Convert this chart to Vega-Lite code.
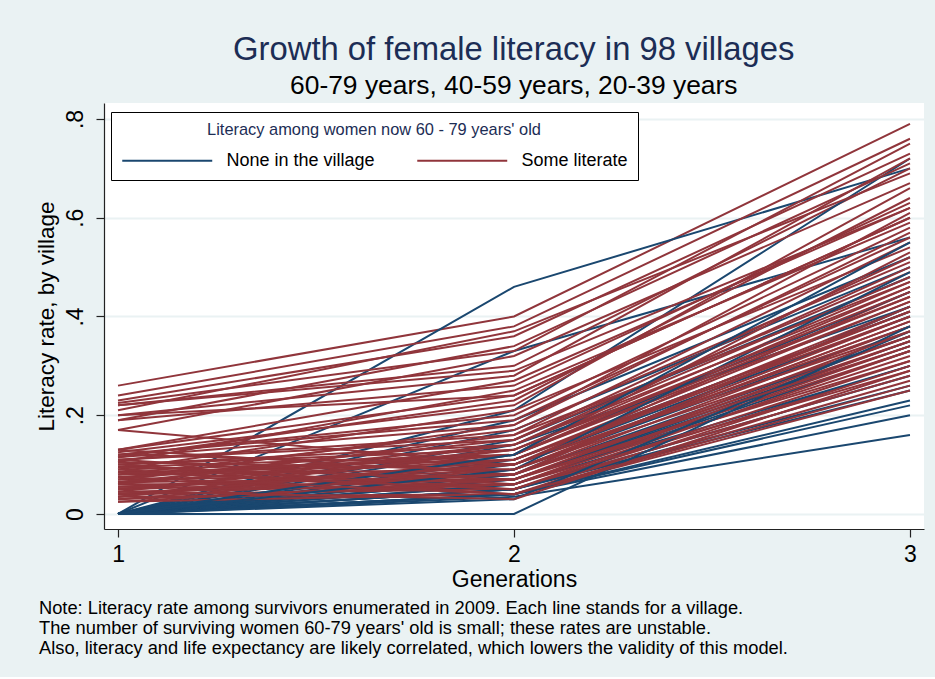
{
  "$schema": "https://vega.github.io/schema/vega-lite/v6.json",
  "background": "#EAF2F3",
  "autosize": {"type": "pad"},
  "padding": {"left": 35, "top": 33, "right": 12, "bottom": 19},
  "title": {
    "text": "Growth of female literacy in 98 villages",
    "subtitle": "60-79 years, 40-59 years, 20-39 years",
    "anchor": "middle", "frame": "bounds", "dx": 34, "offset": 4,
    "font": "Liberation Sans", "fontSize": 32.8, "fontWeight": "normal", "color": "#1c2d55",
    "subtitleFont": "Liberation Sans", "subtitleFontSize": 26.4, "subtitleColor": "black", "subtitlePadding": 6
  },
  "config": {
    "view": {"fill": "white", "stroke": null},
    "axis": {
      "domainColor": "#222", "domainWidth": 1.2, "tickColor": "#222", "tickWidth": 1.2, "tickSize": 8,
      "labelFont": "Liberation Sans", "labelFontSize": 23, "labelColor": "black",
      "titleFont": "Liberation Sans", "titleFontSize": 23, "titleFontWeight": "normal", "titleColor": "black",
      "labelFlush": false, "labelOverlap": false, "gridColor": "#EAF2F3", "gridWidth": 2
    }
  },
  "hconcat": [
    {
      "width": 820,
      "height": 426,
      "title": {
        "text": [
          "Note: Literacy rate among survivors enumerated in 2009. Each line stands for a village.",
          "The number of surviving women 60-79 years' old is small; these rates are unstable.",
          "Also, literacy and life expectancy are likely correlated, which lowers the validity of this model."
        ],
        "orient": "bottom", "anchor": "start", "frame": "group", "dx": -65, "offset": 9,
        "font": "Liberation Sans", "fontSize": 18.3, "fontWeight": "normal", "color": "black", "lineHeight": 20, "align": "left"
      },
      "data": {
        "values": [
          {"v":1,"s":"S","g":1,"r":0.26},{"v":1,"s":"S","g":2,"r":0.40},{"v":1,"s":"S","g":3,"r":0.79},
          {"v":2,"s":"N","g":1,"r":0},{"v":2,"s":"N","g":2,"r":0.46},{"v":2,"s":"N","g":3,"r":0.70},
          {"v":3,"s":"S","g":1,"r":0.24},{"v":3,"s":"S","g":2,"r":0.38},{"v":3,"s":"S","g":3,"r":0.76},
          {"v":4,"s":"S","g":1,"r":0.23},{"v":4,"s":"S","g":2,"r":0.36},{"v":4,"s":"S","g":3,"r":0.73},
          {"v":5,"s":"N","g":1,"r":0},{"v":5,"s":"N","g":2,"r":0.33},{"v":5,"s":"N","g":3,"r":0.56},
          {"v":6,"s":"S","g":1,"r":0.225},{"v":6,"s":"S","g":2,"r":0.33},{"v":6,"s":"S","g":3,"r":0.75},
          {"v":7,"s":"S","g":1,"r":0.22},{"v":7,"s":"S","g":2,"r":0.30},{"v":7,"s":"S","g":3,"r":0.70},
          {"v":8,"s":"N","g":1,"r":0},{"v":8,"s":"N","g":2,"r":0.21},{"v":8,"s":"N","g":3,"r":0.72},
          {"v":9,"s":"S","g":1,"r":0.21},{"v":9,"s":"S","g":2,"r":0.37},{"v":9,"s":"S","g":3,"r":0.69},
          {"v":10,"s":"S","g":1,"r":0.20},{"v":10,"s":"S","g":2,"r":0.28},{"v":10,"s":"S","g":3,"r":0.72},
          {"v":11,"s":"N","g":1,"r":0},{"v":11,"s":"N","g":2,"r":0.19},{"v":11,"s":"N","g":3,"r":0.52},
          {"v":12,"s":"S","g":1,"r":0.19},{"v":12,"s":"S","g":2,"r":0.26},{"v":12,"s":"S","g":3,"r":0.63},
          {"v":13,"s":"S","g":1,"r":0.17},{"v":13,"s":"S","g":2,"r":0.32},{"v":13,"s":"S","g":3,"r":0.67},
          {"v":14,"s":"N","g":1,"r":0},{"v":14,"s":"N","g":2,"r":0.17},{"v":14,"s":"N","g":3,"r":0.50},
          {"v":15,"s":"S","g":1,"r":0.17},{"v":15,"s":"S","g":2,"r":0.10},{"v":15,"s":"S","g":3,"r":0.45},
          {"v":16,"s":"S","g":1,"r":0.13},{"v":16,"s":"S","g":2,"r":0.27},{"v":16,"s":"S","g":3,"r":0.62},
          {"v":17,"s":"N","g":1,"r":0},{"v":17,"s":"N","g":2,"r":0.15},{"v":17,"s":"N","g":3,"r":0.48},
          {"v":18,"s":"S","g":1,"r":0.13},{"v":18,"s":"S","g":2,"r":0.24},{"v":18,"s":"S","g":3,"r":0.60},
          {"v":19,"s":"S","g":1,"r":0.125},{"v":19,"s":"S","g":2,"r":0.22},{"v":19,"s":"S","g":3,"r":0.66},
          {"v":20,"s":"N","g":1,"r":0},{"v":20,"s":"N","g":2,"r":0.14},{"v":20,"s":"N","g":3,"r":0.42},
          {"v":21,"s":"S","g":1,"r":0.12},{"v":21,"s":"S","g":2,"r":0.20},{"v":21,"s":"S","g":3,"r":0.58},
          {"v":22,"s":"S","g":1,"r":0.12},{"v":22,"s":"S","g":2,"r":0.19},{"v":22,"s":"S","g":3,"r":0.56},
          {"v":23,"s":"S","g":1,"r":0.115},{"v":23,"s":"S","g":2,"r":0.18},{"v":23,"s":"S","g":3,"r":0.61},
          {"v":24,"s":"N","g":1,"r":0},{"v":24,"s":"N","g":2,"r":0.12},{"v":24,"s":"N","g":3,"r":0.45},
          {"v":25,"s":"S","g":1,"r":0.11},{"v":25,"s":"S","g":2,"r":0.16},{"v":25,"s":"S","g":3,"r":0.55},
          {"v":26,"s":"S","g":1,"r":0.11},{"v":26,"s":"S","g":2,"r":0.15},{"v":26,"s":"S","g":3,"r":0.52},
          {"v":27,"s":"N","g":1,"r":0},{"v":27,"s":"N","g":2,"r":0.11},{"v":27,"s":"N","g":3,"r":0.41},
          {"v":28,"s":"S","g":1,"r":0.105},{"v":28,"s":"S","g":2,"r":0.25},{"v":28,"s":"S","g":3,"r":0.59},
          {"v":29,"s":"S","g":1,"r":0.10},{"v":29,"s":"S","g":2,"r":0.14},{"v":29,"s":"S","g":3,"r":0.50},
          {"v":30,"s":"N","g":1,"r":0},{"v":30,"s":"N","g":2,"r":0.10},{"v":30,"s":"N","g":3,"r":0.40},
          {"v":31,"s":"S","g":1,"r":0.10},{"v":31,"s":"S","g":2,"r":0.13},{"v":31,"s":"S","g":3,"r":0.47},
          {"v":32,"s":"S","g":1,"r":0.095},{"v":32,"s":"S","g":2,"r":0.12},{"v":32,"s":"S","g":3,"r":0.44},
          {"v":33,"s":"N","g":1,"r":0},{"v":33,"s":"N","g":2,"r":0.09},{"v":33,"s":"N","g":3,"r":0.38},
          {"v":34,"s":"S","g":1,"r":0.09},{"v":34,"s":"S","g":2,"r":0.21},{"v":34,"s":"S","g":3,"r":0.54},
          {"v":35,"s":"S","g":1,"r":0.09},{"v":35,"s":"S","g":2,"r":0.11},{"v":35,"s":"S","g":3,"r":0.43},
          {"v":36,"s":"S","g":1,"r":0.085},{"v":36,"s":"S","g":2,"r":0.10},{"v":36,"s":"S","g":3,"r":0.42},
          {"v":37,"s":"N","g":1,"r":0},{"v":37,"s":"N","g":2,"r":0.08},{"v":37,"s":"N","g":3,"r":0.36},
          {"v":38,"s":"S","g":1,"r":0.08},{"v":38,"s":"S","g":2,"r":0.17},{"v":38,"s":"S","g":3,"r":0.51},
          {"v":39,"s":"S","g":1,"r":0.08},{"v":39,"s":"S","g":2,"r":0.09},{"v":39,"s":"S","g":3,"r":0.40},
          {"v":40,"s":"N","g":1,"r":0},{"v":40,"s":"N","g":2,"r":0.08},{"v":40,"s":"N","g":3,"r":0.42},
          {"v":41,"s":"S","g":1,"r":0.075},{"v":41,"s":"S","g":2,"r":0.12},{"v":41,"s":"S","g":3,"r":0.46},
          {"v":42,"s":"S","g":1,"r":0.07},{"v":42,"s":"S","g":2,"r":0.08},{"v":42,"s":"S","g":3,"r":0.38},
          {"v":43,"s":"N","g":1,"r":0},{"v":43,"s":"N","g":2,"r":0.07},{"v":43,"s":"N","g":3,"r":0.35},
          {"v":44,"s":"S","g":1,"r":0.07},{"v":44,"s":"S","g":2,"r":0.15},{"v":44,"s":"S","g":3,"r":0.49},
          {"v":45,"s":"S","g":1,"r":0.065},{"v":45,"s":"S","g":2,"r":0.07},{"v":45,"s":"S","g":3,"r":0.36},
          {"v":46,"s":"N","g":1,"r":0},{"v":46,"s":"N","g":2,"r":0.07},{"v":46,"s":"N","g":3,"r":0.34},
          {"v":47,"s":"S","g":1,"r":0.065},{"v":47,"s":"S","g":2,"r":0.11},{"v":47,"s":"S","g":3,"r":0.41},
          {"v":48,"s":"S","g":1,"r":0.06},{"v":48,"s":"S","g":2,"r":0.06},{"v":48,"s":"S","g":3,"r":0.34},
          {"v":49,"s":"S","g":1,"r":0.06},{"v":49,"s":"S","g":2,"r":0.13},{"v":49,"s":"S","g":3,"r":0.44},
          {"v":50,"s":"N","g":1,"r":0},{"v":50,"s":"N","g":2,"r":0.06},{"v":50,"s":"N","g":3,"r":0.33},
          {"v":51,"s":"S","g":1,"r":0.055},{"v":51,"s":"S","g":2,"r":0.09},{"v":51,"s":"S","g":3,"r":0.39},
          {"v":52,"s":"S","g":1,"r":0.055},{"v":52,"s":"S","g":2,"r":0.05},{"v":52,"s":"S","g":3,"r":0.30},
          {"v":53,"s":"N","g":1,"r":0},{"v":53,"s":"N","g":2,"r":0.06},{"v":53,"s":"N","g":3,"r":0.30},
          {"v":54,"s":"S","g":1,"r":0.05},{"v":54,"s":"S","g":2,"r":0.10},{"v":54,"s":"S","g":3,"r":0.37},
          {"v":55,"s":"S","g":1,"r":0.05},{"v":55,"s":"S","g":2,"r":0.07},{"v":55,"s":"S","g":3,"r":0.33},
          {"v":56,"s":"N","g":1,"r":0},{"v":56,"s":"N","g":2,"r":0.05},{"v":56,"s":"N","g":3,"r":0.28},
          {"v":57,"s":"S","g":1,"r":0.045},{"v":57,"s":"S","g":2,"r":0.14},{"v":57,"s":"S","g":3,"r":0.48},
          {"v":58,"s":"S","g":1,"r":0.045},{"v":58,"s":"S","g":2,"r":0.06},{"v":58,"s":"S","g":3,"r":0.32},
          {"v":59,"s":"N","g":1,"r":0},{"v":59,"s":"N","g":2,"r":0.05},{"v":59,"s":"N","g":3,"r":0.26},
          {"v":60,"s":"S","g":1,"r":0.04},{"v":60,"s":"S","g":2,"r":0.08},{"v":60,"s":"S","g":3,"r":0.35},
          {"v":61,"s":"S","g":1,"r":0.04},{"v":61,"s":"S","g":2,"r":0.05},{"v":61,"s":"S","g":3,"r":0.28},
          {"v":62,"s":"S","g":1,"r":0.035},{"v":62,"s":"S","g":2,"r":0.11},{"v":62,"s":"S","g":3,"r":0.40},
          {"v":63,"s":"N","g":1,"r":0},{"v":63,"s":"N","g":2,"r":0.05},{"v":63,"s":"N","g":3,"r":0.25},
          {"v":64,"s":"S","g":1,"r":0.035},{"v":64,"s":"S","g":2,"r":0.04},{"v":64,"s":"S","g":3,"r":0.27},
          {"v":65,"s":"S","g":1,"r":0.03},{"v":65,"s":"S","g":2,"r":0.09},{"v":65,"s":"S","g":3,"r":0.36},
          {"v":66,"s":"N","g":1,"r":0},{"v":66,"s":"N","g":2,"r":0.04},{"v":66,"s":"N","g":3,"r":0.23},
          {"v":67,"s":"S","g":1,"r":0.03},{"v":67,"s":"S","g":2,"r":0.06},{"v":67,"s":"S","g":3,"r":0.29},
          {"v":68,"s":"S","g":1,"r":0.025},{"v":68,"s":"S","g":2,"r":0.07},{"v":68,"s":"S","g":3,"r":0.31},
          {"v":69,"s":"N","g":1,"r":0},{"v":69,"s":"N","g":2,"r":0.04},{"v":69,"s":"N","g":3,"r":0.22},
          {"v":70,"s":"S","g":1,"r":0.025},{"v":70,"s":"S","g":2,"r":0.04},{"v":70,"s":"S","g":3,"r":0.25},
          {"v":71,"s":"S","g":1,"r":0.13},{"v":71,"s":"S","g":2,"r":0.08},{"v":71,"s":"S","g":3,"r":0.42},
          {"v":72,"s":"N","g":1,"r":0},{"v":72,"s":"N","g":2,"r":0.04},{"v":72,"s":"N","g":3,"r":0.20},
          {"v":73,"s":"S","g":1,"r":0.12},{"v":73,"s":"S","g":2,"r":0.10},{"v":73,"s":"S","g":3,"r":0.38},
          {"v":74,"s":"S","g":1,"r":0.11},{"v":74,"s":"S","g":2,"r":0.06},{"v":74,"s":"S","g":3,"r":0.35},
          {"v":75,"s":"N","g":1,"r":0},{"v":75,"s":"N","g":2,"r":0.035},{"v":75,"s":"N","g":3,"r":0.16},
          {"v":76,"s":"S","g":1,"r":0.10},{"v":76,"s":"S","g":2,"r":0.05},{"v":76,"s":"S","g":3,"r":0.33},
          {"v":77,"s":"S","g":1,"r":0.09},{"v":77,"s":"S","g":2,"r":0.04},{"v":77,"s":"S","g":3,"r":0.30},
          {"v":78,"s":"N","g":1,"r":0},{"v":78,"s":"N","g":2,"r":0.03},{"v":78,"s":"N","g":3,"r":0.37},
          {"v":79,"s":"S","g":1,"r":0.08},{"v":79,"s":"S","g":2,"r":0.12},{"v":79,"s":"S","g":3,"r":0.53},
          {"v":80,"s":"S","g":1,"r":0.07},{"v":80,"s":"S","g":2,"r":0.18},{"v":80,"s":"S","g":3,"r":0.57},
          {"v":81,"s":"N","g":1,"r":0},{"v":81,"s":"N","g":2,"r":0},{"v":81,"s":"N","g":3,"r":0.38},
          {"v":82,"s":"S","g":1,"r":0.06},{"v":82,"s":"S","g":2,"r":0.16},{"v":82,"s":"S","g":3,"r":0.47},
          {"v":83,"s":"S","g":1,"r":0.05},{"v":83,"s":"S","g":2,"r":0.12},{"v":83,"s":"S","g":3,"r":0.43},
          {"v":84,"s":"N","g":1,"r":0},{"v":84,"s":"N","g":2,"r":0.09},{"v":84,"s":"N","g":3,"r":0.49},
          {"v":85,"s":"S","g":1,"r":0.04},{"v":85,"s":"S","g":2,"r":0.10},{"v":85,"s":"S","g":3,"r":0.41},
          {"v":86,"s":"S","g":1,"r":0.115},{"v":86,"s":"S","g":2,"r":0.23},{"v":86,"s":"S","g":3,"r":0.64},
          {"v":87,"s":"N","g":1,"r":0},{"v":87,"s":"N","g":2,"r":0.12},{"v":87,"s":"N","g":3,"r":0.55},
          {"v":88,"s":"S","g":1,"r":0.105},{"v":88,"s":"S","g":2,"r":0.09},{"v":88,"s":"S","g":3,"r":0.39},
          {"v":89,"s":"S","g":1,"r":0.095},{"v":89,"s":"S","g":2,"r":0.07},{"v":89,"s":"S","g":3,"r":0.37},
          {"v":90,"s":"S","g":1,"r":0.085},{"v":90,"s":"S","g":2,"r":0.05},{"v":90,"s":"S","g":3,"r":0.31},
          {"v":91,"s":"S","g":1,"r":0.075},{"v":91,"s":"S","g":2,"r":0.04},{"v":91,"s":"S","g":3,"r":0.26},
          {"v":92,"s":"S","g":1,"r":0.065},{"v":92,"s":"S","g":2,"r":0.14},{"v":92,"s":"S","g":3,"r":0.46},
          {"v":93,"s":"S","g":1,"r":0.055},{"v":93,"s":"S","g":2,"r":0.08},{"v":93,"s":"S","g":3,"r":0.34},
          {"v":94,"s":"S","g":1,"r":0.045},{"v":94,"s":"S","g":2,"r":0.03},{"v":94,"s":"S","g":3,"r":0.29},
          {"v":95,"s":"S","g":1,"r":0.035},{"v":95,"s":"S","g":2,"r":0.13},{"v":95,"s":"S","g":3,"r":0.45},
          {"v":96,"s":"S","g":1,"r":0.22},{"v":96,"s":"S","g":2,"r":0.29},{"v":96,"s":"S","g":3,"r":0.62},
          {"v":97,"s":"S","g":1,"r":0.20},{"v":97,"s":"S","g":2,"r":0.24},{"v":97,"s":"S","g":3,"r":0.60},
          {"v":98,"s":"S","g":1,"r":0.19},{"v":98,"s":"S","g":2,"r":0.34},{"v":98,"s":"S","g":3,"r":0.71}
        ]
      },
      "mark": {"type": "line", "strokeWidth": 2, "clip": true},
      "encoding": {
        "x": {
          "field": "g", "type": "quantitative",
          "scale": {"domain": [0.9646, 3.0354], "nice": false, "zero": false},
          "axis": {"values": [1, 2, 3], "tickCount": 10, "tickMinStep": 0.1, "labelExpr": "format(datum.value, 'd')",
                   "grid": false, "title": "Generations", "labelPadding": 6, "titlePadding": 2}
        },
        "y": {
          "field": "r", "type": "quantitative",
          "scale": {"domain": [-0.0304, 0.8324], "nice": false, "zero": false},
          "axis": {"values": [0, 0.2, 0.4, 0.6, 0.8], "tickCount": 10, "grid": true,
                   "labelExpr": "datum.value == 0 ? '0' : replace(format(datum.value, '.1f'), '0.', '.')",
                   "labelAngle": 270, "labelAlign": "center", "labelBaseline": "bottom", "labelPadding": 8.5,
                   "title": "Literacy rate, by village", "titleFontSize": 22.5, "titlePadding": 6}
        },
        "color": {
          "field": "s", "type": "nominal",
          "scale": {"domain": ["N", "S"], "range": ["#1a476f", "#90353b"]},
          "legend": {
            "title": "Literacy among women now 60 - 79 years' old",
            "orient": "none", "legendX": 7, "legendY": 9, "direction": "horizontal", "columns": 2,
            "labelExpr": "datum.value == 'N' ? 'None in the village' : 'Some literate'",
            "titleAnchor": "middle", "titleFont": "Liberation Sans", "titleFontSize": 16.4, "titleFontWeight": "normal",
            "titleColor": "#1c2d55", "titlePadding": 9.6, "titleLimit": 600,
            "labelFont": "Liberation Sans", "labelFontSize": 18, "labelColor": "black", "labelOffset": 80.5, "labelLimit": 400,
            "symbolType": "M-1,0H7", "symbolSize": 506, "symbolStrokeWidth": 2, "symbolFillColor": "transparent",
            "columnPadding": 38, "gridAlign": "each", "padding": 10,
            "strokeColor": "black", "fillColor": "white"
          }
        },
        "detail": {"field": "v", "type": "nominal"}
      }
    }
  ]
}
